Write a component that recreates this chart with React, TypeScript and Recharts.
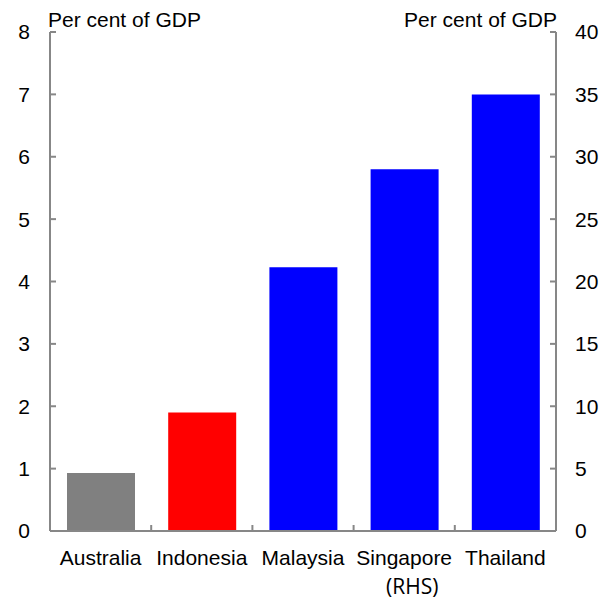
import React from "react";
import { BarChart, Bar, XAxis, YAxis, Cell, CartesianGrid } from "recharts";

const categories = ["Australia", "Indonesia", "Malaysia", "Singapore", "Thailand"];
const lhsValues = [0.93, 1.9, 4.23, null, 7.0];
const rhsValues = [null, null, null, 29, null];
const barColors = ["#808080", "#ff0000", "#0000ff", "#0000ff", "#0000ff"];
const lhsTicks = [0, 1, 2, 3, 4, 5, 6, 7, 8];
const rhsTicks = [0, 5, 10, 15, 20, 25, 30, 35, 40];

const AXIS = "#878787";
const FONT = "'Liberation Sans', Arial, sans-serif";
const PLOT_TOP = 32;
const XAXIS_H = 70;
const CHART_H = 601;

const data = categories.map((name, i) => ({
  name,
  lhs: lhsValues[i],
  rhs: rhsValues[i],
}));

function CategoryTick({ x, y, payload }: any) {
  const isRhs = payload.value === "Singapore";
  return (
    <g>
      <text x={x} y={y + 26} textAnchor="middle" fontSize={21} fill="#000" fontFamily={FONT}>
        {payload.value}
      </text>
      {isRhs && (
        <text x={x + 8} y={y + 55} textAnchor="middle" fontSize={21} fill="#000" fontFamily="'Open Sans', sans-serif">
          (RHS)
        </text>
      )}
    </g>
  );
}

// band starts of categories 2..5 = the boundaries between bars
function boundaryCoords({ xAxis }: any) {
  if (!xAxis || !xAxis.scale) return [];
  const scale = xAxis.scale;
  const fn = typeof scale === "function" ? scale : scale.map;
  return categories.slice(1).map((c) => fn.call(scale, c)).filter((v: any) => typeof v === "number");
}

export default function App() {
  const plotBottom = CHART_H - XAXIS_H;
  return (
    <div style={{ position: "absolute", left: 0, top: 0, width: 614, height: CHART_H, background: "#fff", fontFamily: FONT }}>
      <div style={{ position: "absolute", left: 48, top: 8, fontSize: 21, lineHeight: "24px", whiteSpace: "nowrap" }}>
        Per cent of GDP
      </div>
      <div style={{ position: "absolute", right: 57, top: 8, fontSize: 21, lineHeight: "24px", whiteSpace: "nowrap" }}>
        Per cent of GDP
      </div>
      <BarChart
        width={614}
        height={CHART_H}
        data={data}
        margin={{ top: PLOT_TOP, right: 0, bottom: 0, left: 0 }}
        barSize={68}
        barGap={-68}
      >
        {/* short ticks between the categories, sitting on the x axis */}
        <CartesianGrid
          horizontal={false}
          xAxisId="cat"
          yAxisId="left"
          y={plotBottom - 6}
          height={6}
          stroke={AXIS}
          strokeWidth={2}
          verticalCoordinatesGenerator={boundaryCoords}
        />
        <XAxis
          dataKey="name"
          xAxisId="cat"
          height={XAXIS_H}
          axisLine={{ stroke: AXIS, strokeWidth: 2 }}
          tickLine={false}
          tick={<CategoryTick />}
          interval={0}
        />
        <YAxis
          yAxisId="left"
          orientation="left"
          width={50}
          domain={[0, 8]}
          ticks={lhsTicks}
          axisLine={{ stroke: AXIS, strokeWidth: 2 }}
          tickLine={{ stroke: AXIS, strokeWidth: 2 }}
          tickSize={-6}
          tickMargin={26}
          tick={{ fontSize: 21, fill: "#000", fontFamily: FONT }}
        />
        <YAxis
          yAxisId="right"
          orientation="right"
          width={58}
          domain={[0, 40]}
          ticks={rhsTicks}
          axisLine={{ stroke: AXIS, strokeWidth: 2 }}
          tickLine={{ stroke: AXIS, strokeWidth: 2 }}
          tickSize={-6}
          tickMargin={25}
          tick={{ fontSize: 21, fill: "#000", fontFamily: FONT }}
        />
        <Bar dataKey="lhs" yAxisId="left" xAxisId="cat" isAnimationActive={false}>
          {data.map((d, i) => (
            <Cell key={d.name} fill={barColors[i]} />
          ))}
        </Bar>
        <Bar dataKey="rhs" yAxisId="right" xAxisId="cat" isAnimationActive={false}>
          {data.map((d, i) => (
            <Cell key={d.name} fill={barColors[i]} />
          ))}
        </Bar>
      </BarChart>
    </div>
  );
}
